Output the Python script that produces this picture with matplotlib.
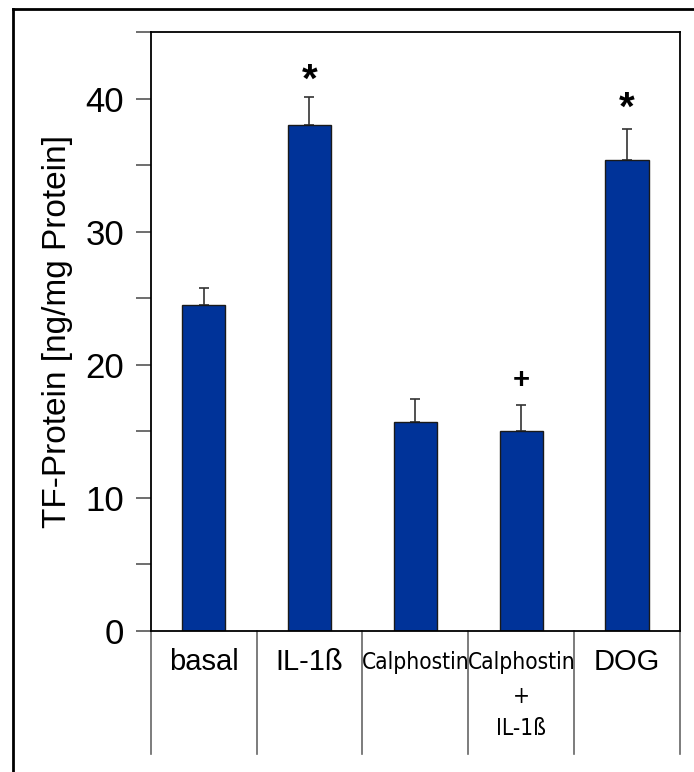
import numpy as np
import matplotlib.pyplot as plt
from matplotlib import font_manager as fm
from matplotlib.lines import Line2D
from matplotlib.ticker import MultipleLocator

# values
groups = [["basal"], ["IL-1ß"], ["Calphostin"], ["Calphostin", "+", "IL-1ß"], ["DOG"]]
narrow = [False, False, True, True, False]
means = [24.5, 38.0, 15.7, 15.0, 35.4]
errors = [1.3, 2.1, 1.7, 2.0, 2.35]
marks = ["", "*", "", "+", "*"]
mark_y = [0, 41.8, 0, 19.0, 39.7]

plt.rcParams['font.family'] = ['Liberation Sans', 'DejaVu Sans']

# look for a condensed face for the narrow labels
narrow_file = None
for f in fm.fontManager.ttflist:
    if f.style != 'normal' or f.weight not in (400, 'normal', 'regular'):
        continue
    if f.name == 'Liberation Sans Narrow':
        narrow_file = f.fname
        break
if narrow_file is None:
    for f in fm.fontManager.ttflist:
        fn = f.fname.lower()
        if f.style == 'normal' and ('condensed' in fn or 'narrow' in fn) \
                and 'bold' not in fn and 'light' not in fn and 'semi' not in fn \
                and 'mono' not in fn and 'serif' not in fn and 'italic' not in fn \
                and 'oblique' not in fn:
            narrow_file = f.fname
            break
if narrow_file:
    narrow_prop = fm.FontProperties(fname=narrow_file, size=16.3)
else:
    narrow_prop = fm.FontProperties(family='Liberation Sans', size=15)

fig = plt.figure(figsize=(6.94, 7.72), dpi=100)
ax = fig.add_axes([0.217, 0.1826, 0.763, 0.7759])

x = np.arange(len(means))
ax.bar(x, means, width=0.41, color='#003399', edgecolor='#1a1a1a', linewidth=1, zorder=2)
ax.errorbar(x, means, yerr=[np.zeros(len(errors)), errors], fmt='none',
            ecolor='#333333', elinewidth=1.2, capsize=3.5, capthick=1.2, zorder=1)

for xi, m, my in zip(x, marks, mark_y):
    if m == "*":
        ax.annotate(m, (xi, my), xytext=(0, -12.5), textcoords='offset points',
                    ha='center', va='baseline', fontsize=29, fontweight='bold')
    elif m == "+":
        ax.annotate(m, (xi, my), xytext=(0, -7), textcoords='offset points',
                    ha='center', va='baseline', fontsize=21, fontweight='bold')

ax.set_xlim(-0.5, len(means) - 0.5)
ax.set_ylim(0, 45)
ax.yaxis.set_major_locator(MultipleLocator(10))
ax.yaxis.set_minor_locator(MultipleLocator(5))
ax.tick_params(axis='y', which='both', direction='out', length=11, width=1.2,
               color='#555555', labelsize=25, pad=8)
ax.set_xticks([])
ax.set_ylabel("TF-Protein [ng/mg Protein]", fontsize=24)
ax.yaxis.set_label_coords(-0.146, 0.5)
for s in ax.spines.values():
    s.set_linewidth(1.3)
    s.set_color('black')

# category table below the axis
trans = ax.get_xaxis_transform()
for b in np.arange(-0.5, len(means), 1.0):
    ax.add_line(Line2D([b, b], [0, -0.206], transform=trans, color='#666666',
                       linewidth=1.2, clip_on=False))
row_y = [-0.052, -0.110, -0.162]
for xi, lines, nar in zip(x, groups, narrow):
    for j, t in enumerate(lines):
        if nar:
            ax.text(xi, row_y[j], t, transform=trans, ha='center', va='center',
                    fontproperties=narrow_prop)
        else:
            ax.text(xi, row_y[j], t, transform=trans, ha='center', va='center',
                    fontsize=21)

# frame around the figure (top and left edges visible)
fig.add_artist(Line2D([13 / 694, 1], [1 - 9 / 772, 1 - 9 / 772], color='black',
                      linewidth=2, transform=fig.transFigure))
fig.add_artist(Line2D([13 / 694, 13 / 694], [0, 1 - 9 / 772], color='black',
                      linewidth=2, transform=fig.transFigure))

fig.savefig('out.png', dpi=100)
